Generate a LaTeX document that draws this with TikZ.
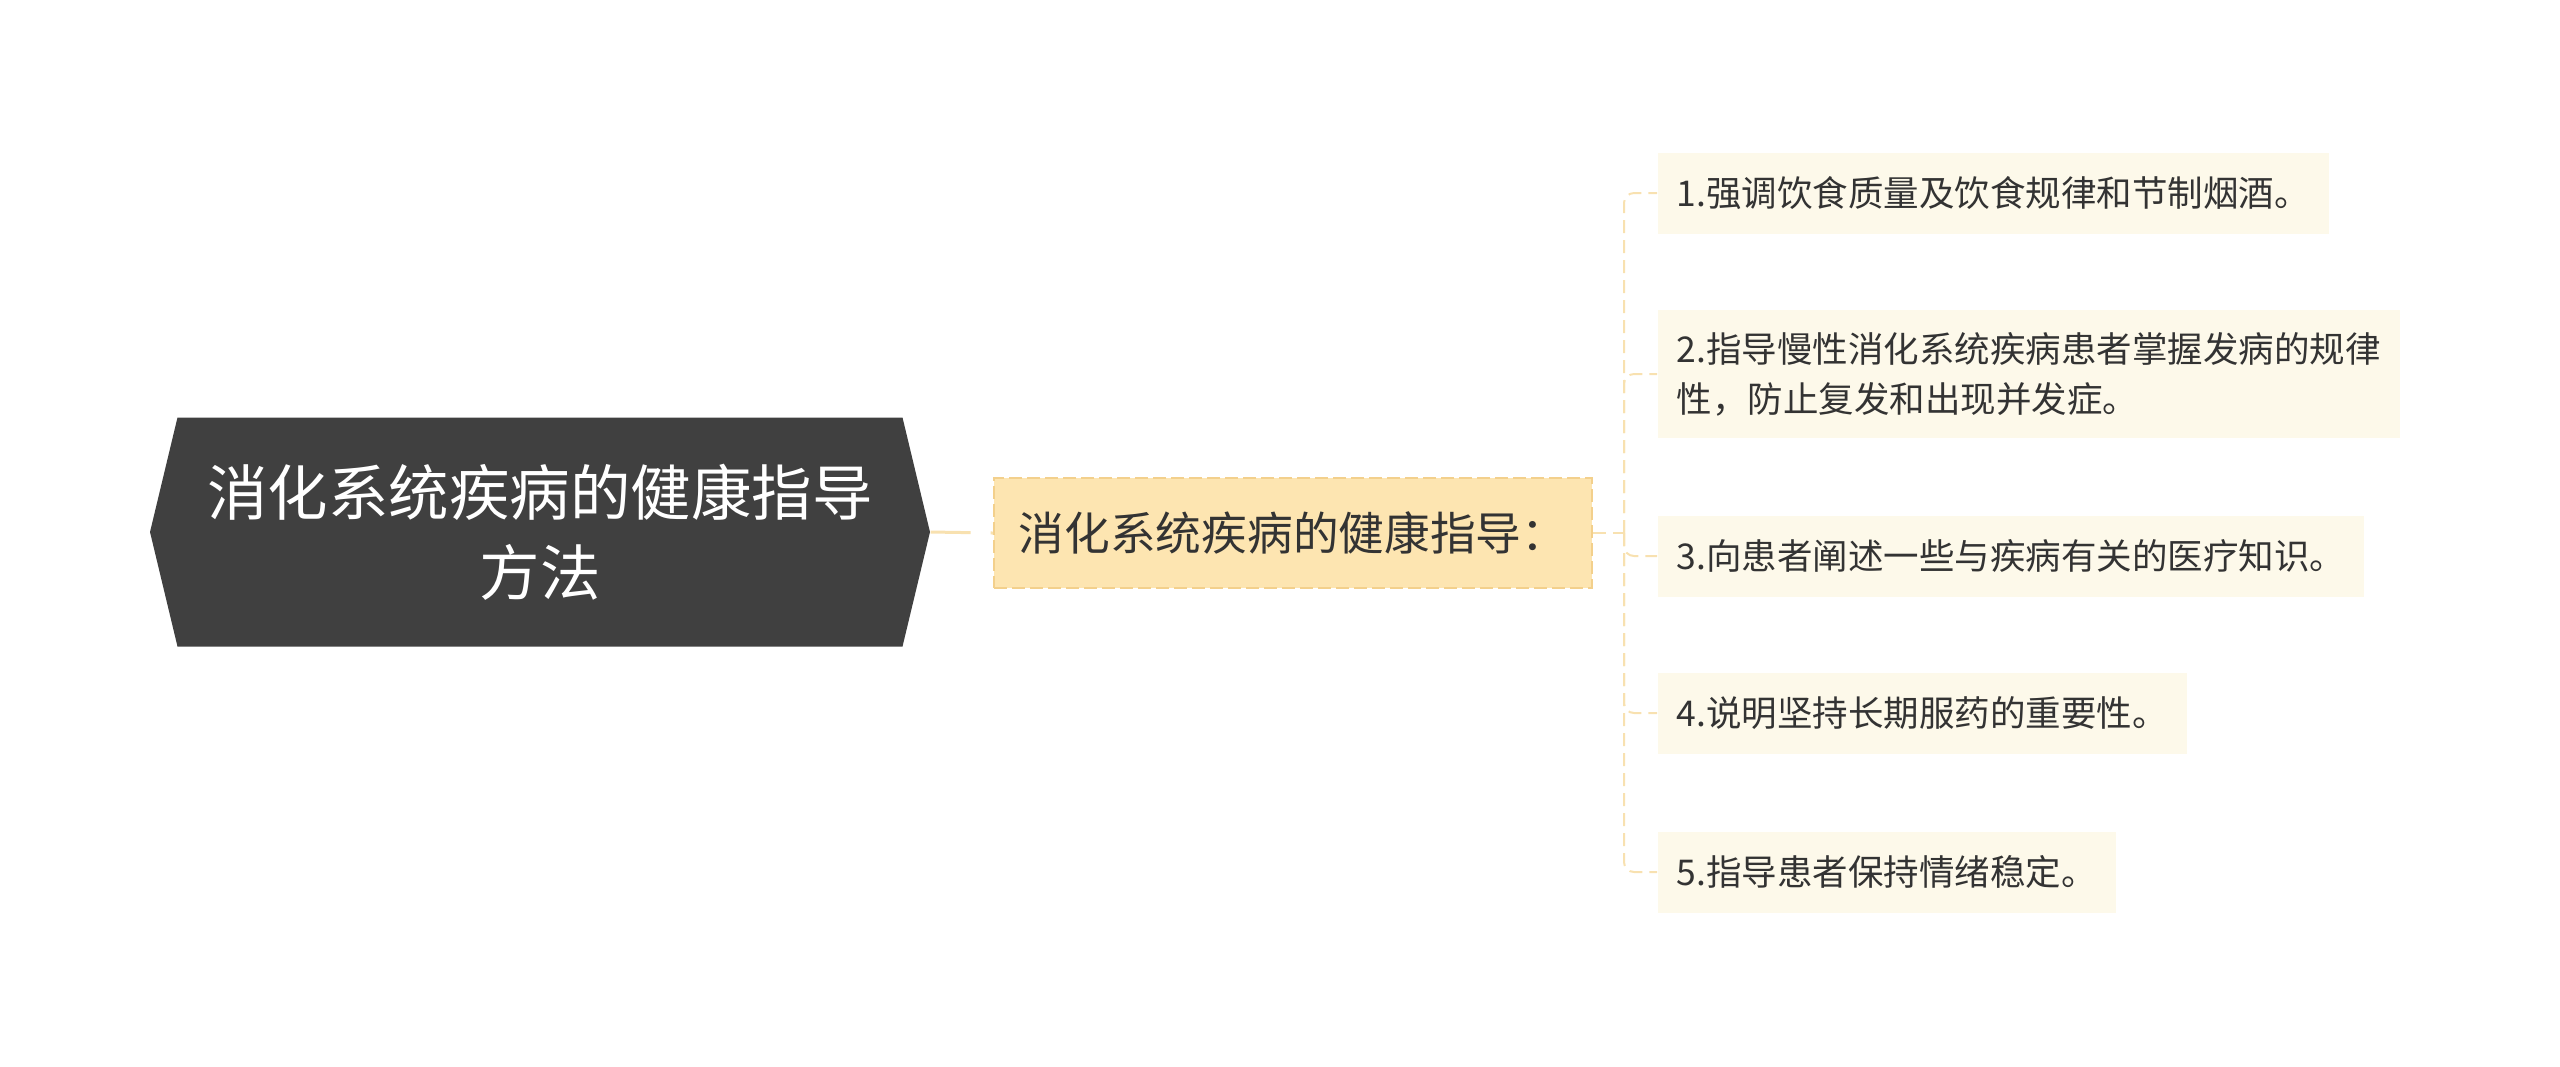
\documentclass[tikz,border=0pt]{standalone}
\usepackage{fontspec}
\setmainfont{Noto Sans CJK SC}
\usetikzlibrary{shapes.symbols}
\definecolor{rootgray}{HTML}{404040}
\definecolor{subfill}{HTML}{FDE5B1}
\definecolor{subedge}{HTML}{F3D08C}
\definecolor{leaffill}{HTML}{FDF9EA}
\definecolor{linkcol}{HTML}{F8E1B0}
\definecolor{txtcol}{HTML}{333333}
\tikzstyle{topic}=[signal, signal to=west and east, signal pointer angle=153, fill=rootgray, text=white, minimum width=78mm, minimum height=22.9mm, inner sep=0pt, align=center, font=\fontsize{17.2}{22.8}\selectfont]
\tikzstyle{subtopic}=[draw=subedge, dash pattern=on 1.3mm off 0.5mm, line width=0.2mm, fill=subfill, text=txtcol, minimum width=59.8mm, minimum height=11mm, inner sep=0pt, font=\fontsize{13}{16}\selectfont]
\tikzstyle{leaf}=[fill=leaffill, text=txtcol, anchor=west, inner xsep=1.9mm, inner ysep=0pt, minimum height=8.1mm, align=left, font=\fontsize{10.1}{14.2}\selectfont]
\tikzstyle{mainlink}=[draw=linkcol, line width=0.3mm, dash pattern=on 4mm off 2mm]
\tikzstyle{link}=[draw=linkcol, line width=0.2mm, dash pattern=on 1.3mm off 0.7mm, rounded corners=1mm]

\begin{document}
\begin{tikzpicture}[x=0.1mm, y=-0.1mm]
        \useasboundingbox (0,0) rectangle (2560,1066);
        \node[topic]    (R) at (540,532) {消化系统疾病的健康指导\\方法};
        \node[subtopic] (M) at (1293,533) {消化系统疾病的健康指导：};
        \node[leaf]     (B1) at (1657,193) {1.强调饮食质量及饮食规律和节制烟酒。};
        \node[leaf, minimum height=12.8mm] (B2) at (1657,374) {2.指导慢性消化系统疾病患者掌握发病的规律\\性，防止复发和出现并发症。};
        \node[leaf]     (B3) at (1657,556) {3.向患者阐述一些与疾病有关的医疗知识。};
        \node[leaf]     (B4) at (1657,713) {4.说明坚持长期服药的重要性。};
        \node[leaf]     (B5) at (1657,872) {5.指导患者保持情绪稳定。};
        \coordinate     (J) at (1624,533);
        \draw[mainlink] (R.east) -- (M.west);
        \draw[link] (M.east) -- (J);
        \draw[link] (J) |- (B1.west);
        \draw[link] (J) |- (B2.west);
        \draw[link] (J) |- (B3.west);
        \draw[link] (J) |- (B4.west);
        \draw[link] (J) |- (B5.west);
\end{tikzpicture}
\end{document}
